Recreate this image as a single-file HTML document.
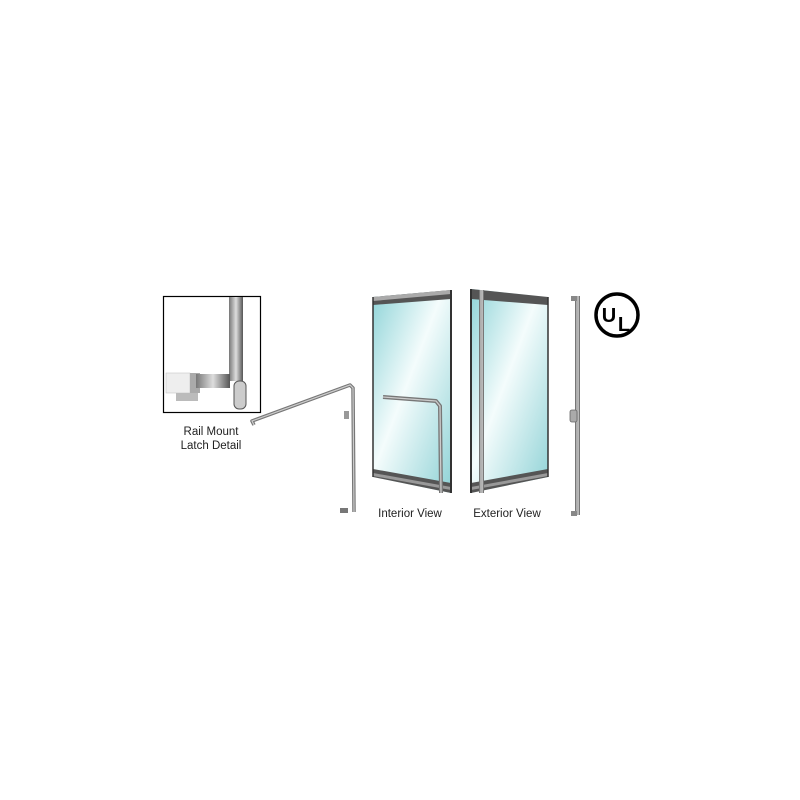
<!DOCTYPE html>
<html><head><style>body{margin:0;background:#fff}svg{display:block}</style></head><body>
<svg width="800" height="800" viewBox="0 0 800 800" xmlns="http://www.w3.org/2000/svg" font-family="Liberation Sans, sans-serif">
<defs>
<linearGradient id="g1" x1="0" y1="0" x2="1" y2="1">
<stop offset="0" stop-color="#8fd4d8"/><stop offset="0.45" stop-color="#f4fcfc"/><stop offset="1" stop-color="#8fd2d6"/></linearGradient>
<linearGradient id="m" x1="0" y1="0" x2="1" y2="0"><stop offset="0" stop-color="#777"/><stop offset="0.5" stop-color="#ddd"/><stop offset="1" stop-color="#555"/></linearGradient>
<linearGradient id="rail" x1="0" y1="0" x2="1" y2="0"><stop offset="0" stop-color="#444"/><stop offset="0.2" stop-color="#aaa"/><stop offset="0.8" stop-color="#bbb"/><stop offset="1" stop-color="#333"/></linearGradient>
</defs>
<rect x="163.5" y="296.5" width="97" height="116" fill="#fff" stroke="#000" stroke-width="1.2"/>
<rect x="229" y="297" width="14" height="84" fill="url(#m)"/>
<rect x="166" y="373" width="24" height="20" fill="#eee" stroke="#bbb" stroke-width="0.5"/>
<rect x="190" y="373" width="10" height="20" fill="#aaa"/>
<rect x="196" y="374" width="34" height="14" fill="url(#m)"/>
<rect x="176" y="393" width="22" height="8" fill="#bbb"/>
<rect x="234" y="381" width="12" height="28" rx="5" fill="#ccc" stroke="#555"/>
<text x="211" y="435" font-size="11.5" text-anchor="middle" fill="#222">Rail Mount</text>
<text x="211" y="449" font-size="11.5" text-anchor="middle" fill="#222">Latch Detail</text>
<polyline points="254,425 252,421 350,385 353,388 354,512" fill="none" stroke="#777" stroke-width="3.5" stroke-linejoin="round"/>
<polyline points="254,425 252,421 350,385 353,388 354,512" fill="none" stroke="#ccc" stroke-width="1.2"/>
<rect x="344" y="411" width="5" height="8" fill="#999"/>
<rect x="340" y="508" width="8" height="5" fill="#777"/>
<polygon points="373,297 451,290 451,493 373,477" fill="url(#g1)"/>
<polygon points="373,297 451,290 451,299 373,305" fill="#555"/>
<polygon points="373,297 451,290 451,294 373,301" fill="#aaa"/>
<polygon points="373,469 451,483 451,493 373,477" fill="#555"/>
<polygon points="373,473 451,487 451,490 373,476" fill="#999"/>
<line x1="373" y1="297" x2="373" y2="477" stroke="#333" stroke-width="1.5"/>
<line x1="451" y1="290" x2="451" y2="493" stroke="#333" stroke-width="2"/>
<polyline points="383,397 436,401 440,406 441,493" fill="none" stroke="#777" stroke-width="4" stroke-linejoin="round"/>
<polyline points="383,397 436,401 440,406 441,493" fill="none" stroke="#ccc" stroke-width="1.3"/>
<polygon points="471,289 548,297 548,477 471,493" fill="url(#g1)"/>
<polygon points="471,289 548,297 548,305 471,299" fill="#555"/>
<polygon points="471,483 548,469 548,477 471,493" fill="#555"/>
<polygon points="471,487 548,473 548,476 471,490" fill="#999"/>
<line x1="471" y1="289" x2="471" y2="493" stroke="#333" stroke-width="2"/>
<line x1="548" y1="297" x2="548" y2="477" stroke="#333" stroke-width="1.5"/>
<rect x="479" y="290" width="5" height="203" fill="url(#rail)"/>
<text x="410" y="517" font-size="11.5" text-anchor="middle" fill="#222">Interior View</text>
<text x="507" y="517" font-size="11.5" text-anchor="middle" fill="#222">Exterior View</text>
<rect x="575" y="296" width="5" height="219" fill="url(#rail)"/>
<rect x="571" y="296" width="6" height="5" fill="#888"/>
<rect x="571" y="511" width="6" height="5" fill="#888"/>
<rect x="570" y="410" width="7" height="12" rx="2" fill="#aaa" stroke="#666" stroke-width="0.8"/>
<circle cx="617" cy="315" r="21" fill="none" stroke="#000" stroke-width="3.5"/>
<text x="609" y="322" font-size="20" font-weight="bold" text-anchor="middle" fill="#000">U</text>
<text x="624" y="331" font-size="20" font-weight="bold" text-anchor="middle" fill="#000">L</text>
</svg>
</body></html>
